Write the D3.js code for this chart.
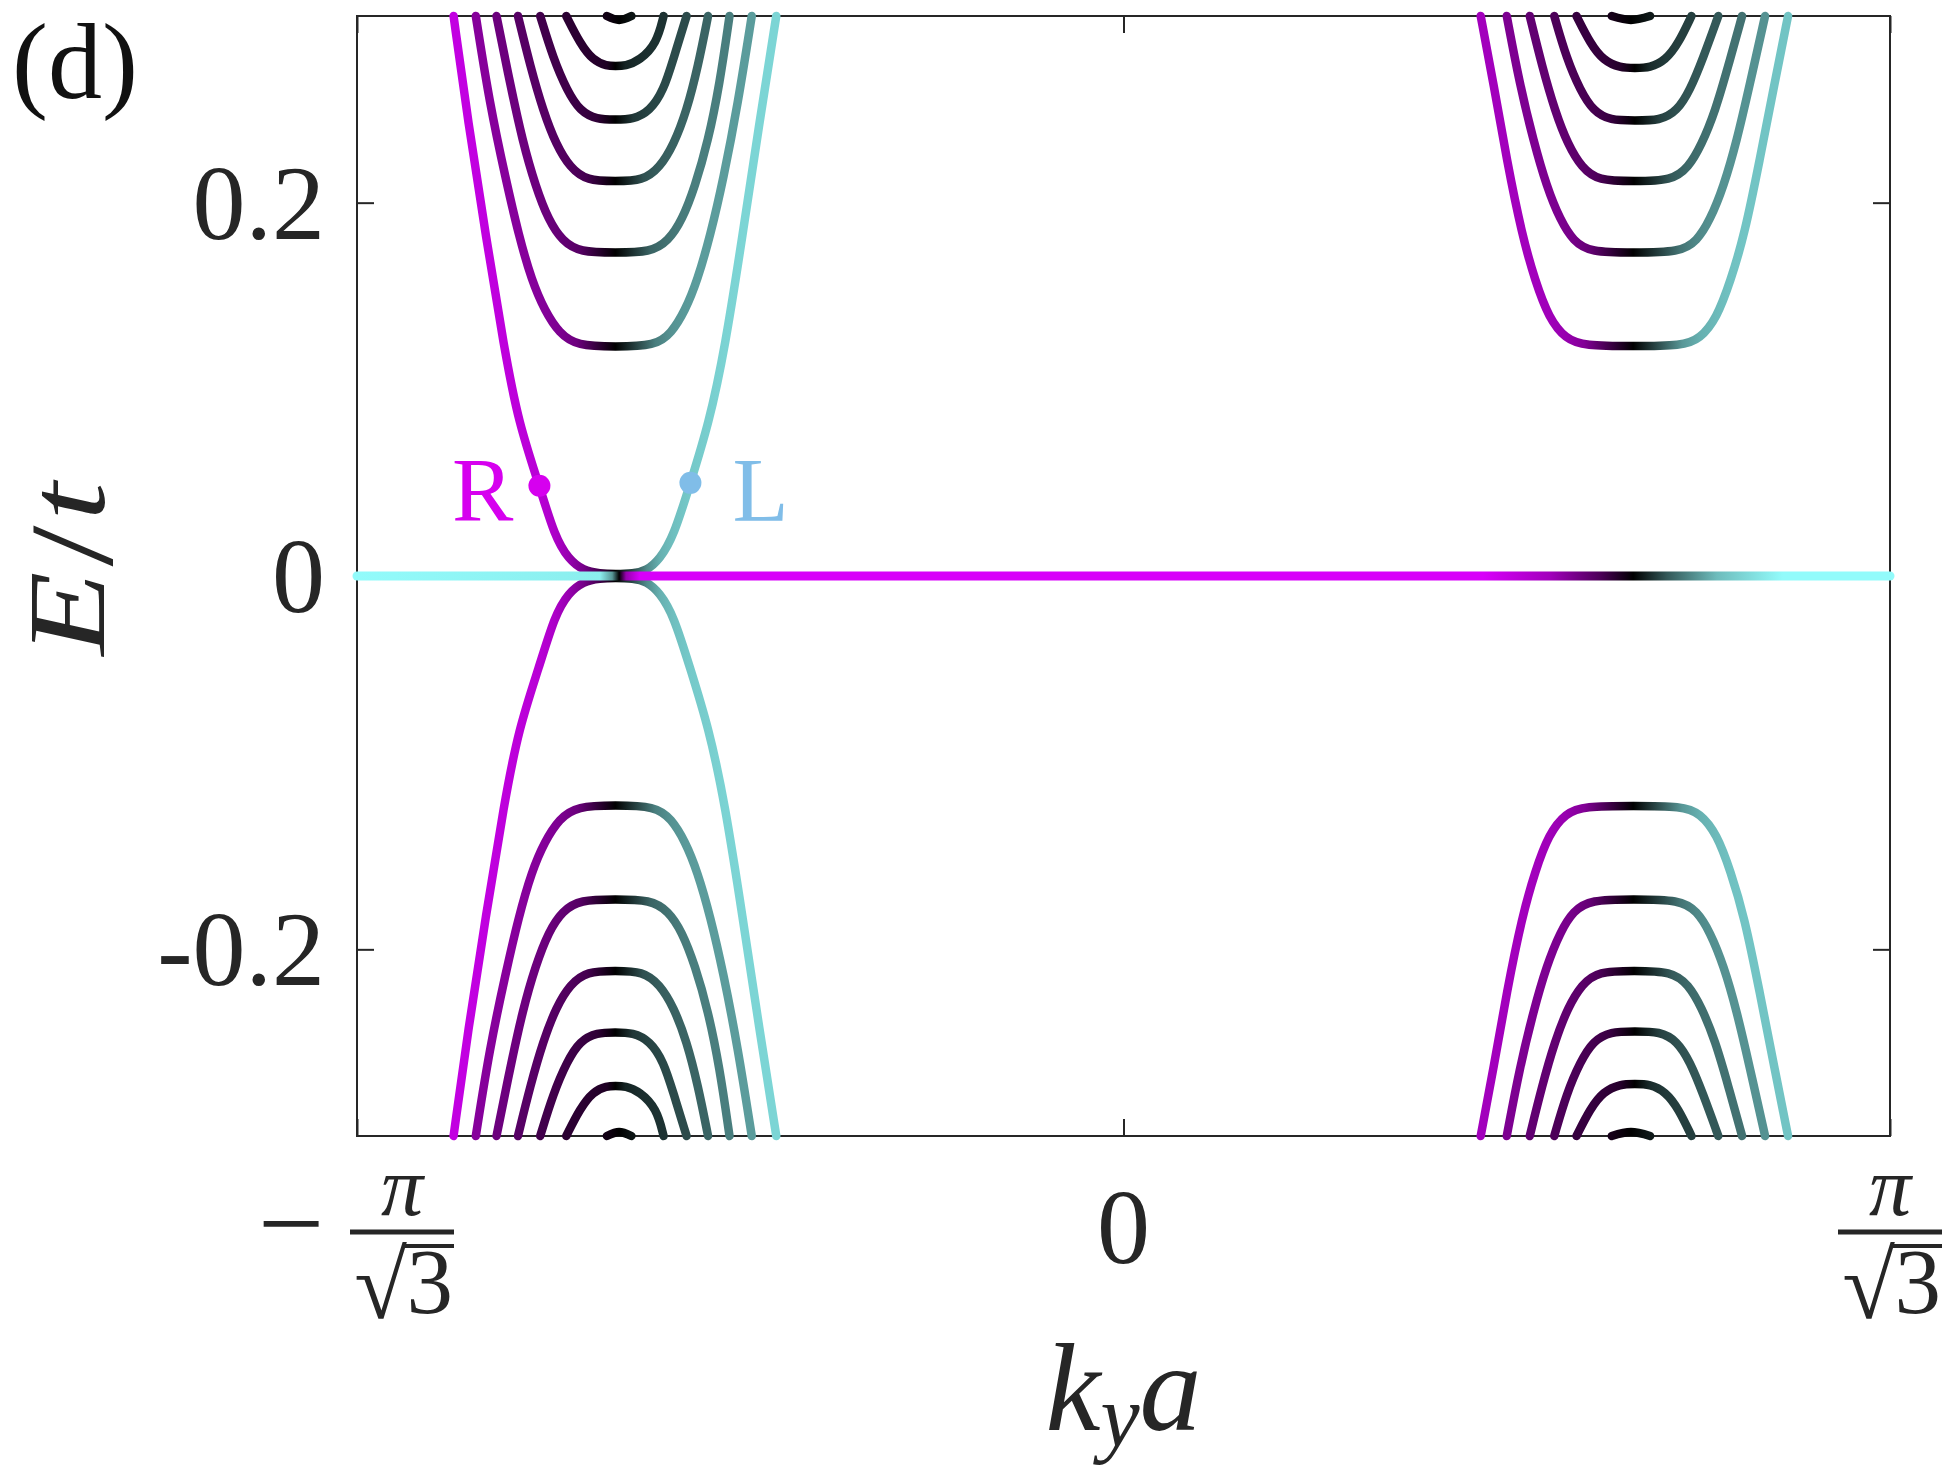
<!DOCTYPE html>
<html>
<head>
<meta charset="utf-8">
<script src="https://cdn.jsdelivr.net/npm/d3@7"></script>
<style>
  html, body { margin: 0; padding: 0; background: #fff; }
  svg { display: block; background: #fff; }
  text { font-family: "Liberation Serif", "DejaVu Serif", "Noto Serif", serif; fill: #262626; }
</style>
</head>
<body>
<svg id="chart" width="1946" height="1466" font-family="Liberation Serif, DejaVu Serif, serif"></svg>
<script>
// ky in units of pi/sqrt(3), E in units of t, third value = valley shade (-1 magenta ... 0 black ... +1 cyan)
const leftUpper = [
  [[-0.874,0.300,-0.90],[-0.855,0.243,-0.90],[-0.832,0.1825,-0.89],[-0.808,0.1219,-0.88],[-0.789,0.0816,-0.87],[-0.762,0.0483,-0.85],[-0.742,0.0211,-0.80],[-0.724,0.0090,-0.70],[-0.705,0.0029,-0.55],[-0.683,0.0012,-0.30],[-0.663,0.0010,0],[-0.640,0.0012,0.30],[-0.622,0.0029,0.55],[-0.605,0.0090,0.70],[-0.587,0.0211,0.76],[-0.565,0.0499,0.80],[-0.541,0.0816,0.82],[-0.520,0.1219,0.84],[-0.497,0.1825,0.85],[-0.475,0.243,0.85],[-0.453,0.300,0.85]],
  [[-0.845,0.300,-0.62],[-0.827,0.2531,-0.62],[-0.806,0.2127,-0.62],[-0.789,0.1825,-0.62],[-0.772,0.1582,-0.62],[-0.755,0.1421,-0.61],[-0.736,0.1300,-0.58],[-0.713,0.1233,-0.50],[-0.663,0.1228,0],[-0.611,0.1233,0.50],[-0.590,0.1300,0.58],[-0.572,0.1421,0.61],[-0.556,0.1582,0.62],[-0.539,0.1825,0.62],[-0.522,0.2127,0.62],[-0.503,0.2531,0.62],[-0.485,0.300,0.62]],
  [[-0.818,0.300,-0.50],[-0.800,0.2632,-0.50],[-0.784,0.2329,-0.50],[-0.767,0.2087,-0.50],[-0.750,0.1905,-0.49],[-0.732,0.1794,-0.46],[-0.709,0.1734,-0.40],[-0.663,0.1732,0],[-0.617,0.1734,0.40],[-0.594,0.1794,0.46],[-0.576,0.1905,0.49],[-0.559,0.2087,0.50],[-0.542,0.2329,0.50],[-0.527,0.2632,0.50],[-0.514,0.300,0.50]],
  [[-0.790,0.300,-0.40],[-0.774,0.2732,-0.40],[-0.757,0.2490,-0.40],[-0.740,0.2309,-0.39],[-0.722,0.2188,-0.37],[-0.700,0.2117,-0.32],[-0.663,0.2115,0],[-0.627,0.2117,0.32],[-0.605,0.2188,0.37],[-0.587,0.2309,0.39],[-0.570,0.2490,0.40],[-0.555,0.2732,0.40],[-0.542,0.300,0.40]],
  [[-0.761,0.300,-0.30],[-0.744,0.2773,-0.30],[-0.726,0.2601,-0.29],[-0.709,0.2490,-0.27],[-0.687,0.2446,-0.22],[-0.663,0.2445,0],[-0.640,0.2446,0.22],[-0.618,0.2490,0.27],[-0.600,0.2601,0.29],[-0.587,0.2773,0.30],[-0.570,0.300,0.30]],
  [[-0.727,0.300,-0.20],[-0.709,0.2853,-0.20],[-0.692,0.2762,-0.18],[-0.674,0.2732,-0.14],[-0.663,0.2732,0],[-0.650,0.2732,0.14],[-0.631,0.2762,0.18],[-0.609,0.2853,0.20],[-0.600,0.300,0.20]],
  [[-0.674,0.300,-0.08],[-0.658,0.2979,0],[-0.642,0.300,0.08]]
]

const leftLower = [
  [[-0.874,-0.300,-0.90],[-0.855,-0.243,-0.90],[-0.832,-0.1825,-0.89],[-0.808,-0.1219,-0.88],[-0.789,-0.0816,-0.87],[-0.762,-0.0483,-0.85],[-0.742,-0.0211,-0.80],[-0.724,-0.0090,-0.70],[-0.705,-0.0029,-0.55],[-0.683,-0.0012,-0.30],[-0.663,-0.0010,0],[-0.640,-0.0012,0.30],[-0.622,-0.0029,0.55],[-0.605,-0.0090,0.70],[-0.587,-0.0211,0.76],[-0.565,-0.0499,0.80],[-0.541,-0.0816,0.82],[-0.520,-0.1219,0.84],[-0.497,-0.1825,0.85],[-0.475,-0.243,0.85],[-0.453,-0.300,0.85]],
  [[-0.845,-0.300,-0.62],[-0.827,-0.2531,-0.62],[-0.806,-0.2127,-0.62],[-0.789,-0.1825,-0.62],[-0.772,-0.1582,-0.62],[-0.755,-0.1421,-0.61],[-0.736,-0.1300,-0.58],[-0.713,-0.1233,-0.50],[-0.663,-0.1228,0],[-0.611,-0.1233,0.50],[-0.590,-0.1300,0.58],[-0.572,-0.1421,0.61],[-0.556,-0.1582,0.62],[-0.539,-0.1825,0.62],[-0.522,-0.2127,0.62],[-0.503,-0.2531,0.62],[-0.485,-0.300,0.62]],
  [[-0.818,-0.300,-0.50],[-0.800,-0.2632,-0.50],[-0.784,-0.2329,-0.50],[-0.767,-0.2087,-0.50],[-0.750,-0.1905,-0.49],[-0.732,-0.1794,-0.46],[-0.709,-0.1734,-0.40],[-0.663,-0.1732,0],[-0.617,-0.1734,0.40],[-0.594,-0.1794,0.46],[-0.576,-0.1905,0.49],[-0.559,-0.2087,0.50],[-0.542,-0.2329,0.50],[-0.527,-0.2632,0.50],[-0.514,-0.300,0.50]],
  [[-0.790,-0.300,-0.40],[-0.774,-0.2732,-0.40],[-0.757,-0.2490,-0.40],[-0.740,-0.2309,-0.39],[-0.722,-0.2188,-0.37],[-0.700,-0.2117,-0.32],[-0.663,-0.2115,0],[-0.627,-0.2117,0.32],[-0.605,-0.2188,0.37],[-0.587,-0.2309,0.39],[-0.570,-0.2490,0.40],[-0.555,-0.2732,0.40],[-0.542,-0.300,0.40]],
  [[-0.761,-0.300,-0.30],[-0.744,-0.2773,-0.30],[-0.726,-0.2601,-0.29],[-0.709,-0.2490,-0.27],[-0.687,-0.2446,-0.22],[-0.663,-0.2445,0],[-0.640,-0.2446,0.22],[-0.618,-0.2490,0.27],[-0.600,-0.2601,0.29],[-0.587,-0.2773,0.30],[-0.570,-0.300,0.30]],
  [[-0.727,-0.300,-0.20],[-0.709,-0.2853,-0.20],[-0.692,-0.2762,-0.18],[-0.674,-0.2732,-0.14],[-0.663,-0.2732,0],[-0.650,-0.2732,0.14],[-0.631,-0.2762,0.18],[-0.609,-0.2853,0.20],[-0.600,-0.300,0.20]],
  [[-0.674,-0.300,-0.08],[-0.658,-0.2979,0],[-0.642,-0.300,0.08]]
]

const rightUpper = [
  [[0.466,0.300,-0.75],[0.483,0.2632,-0.75],[0.500,0.2228,-0.75],[0.520,0.1825,-0.75],[0.537,0.1582,-0.75],[0.555,0.1381,-0.74],[0.577,0.1270,-0.70],[0.601,0.1233,-0.60],[0.665,0.1231,0],[0.729,0.1233,0.60],[0.752,0.1270,0.70],[0.774,0.1381,0.74],[0.792,0.1582,0.77],[0.810,0.1825,0.78],[0.830,0.2228,0.78],[0.849,0.2632,0.78],[0.867,0.300,0.78]],
  [[0.500,0.300,-0.58],[0.517,0.2632,-0.58],[0.535,0.2329,-0.58],[0.552,0.2087,-0.58],[0.570,0.1905,-0.57],[0.587,0.1794,-0.54],[0.609,0.1734,-0.46],[0.665,0.1732,0],[0.726,0.1734,0.46],[0.748,0.1794,0.54],[0.765,0.1905,0.57],[0.783,0.2087,0.58],[0.800,0.2329,0.58],[0.817,0.2632,0.58],[0.837,0.300,0.58]],
  [[0.530,0.300,-0.45],[0.546,0.2732,-0.45],[0.563,0.2490,-0.45],[0.580,0.2309,-0.44],[0.598,0.2188,-0.42],[0.619,0.2117,-0.36],[0.666,0.2115,0],[0.715,0.2117,0.36],[0.737,0.2188,0.42],[0.754,0.2309,0.44],[0.772,0.2490,0.45],[0.789,0.2732,0.45],[0.807,0.300,0.45]],
  [[0.562,0.300,-0.35],[0.578,0.2773,-0.35],[0.596,0.2601,-0.34],[0.613,0.2490,-0.32],[0.635,0.2440,-0.26],[0.667,0.2440,0],[0.700,0.2440,0.26],[0.722,0.2490,0.32],[0.739,0.2601,0.34],[0.756,0.2773,0.35],[0.776,0.300,0.35]],
  [[0.591,0.300,-0.25],[0.609,0.2853,-0.25],[0.626,0.2762,-0.23],[0.648,0.2722,-0.17],[0.667,0.2721,0],[0.687,0.2722,0.17],[0.707,0.2762,0.23],[0.724,0.2853,0.25],[0.741,0.300,0.25]],
  [[0.637,0.300,-0.10],[0.662,0.2979,0],[0.687,0.300,0.10]]
]

const rightLower = [
  [[0.466,-0.300,-0.75],[0.483,-0.2632,-0.75],[0.500,-0.2228,-0.75],[0.520,-0.1825,-0.75],[0.537,-0.1582,-0.75],[0.555,-0.1381,-0.74],[0.577,-0.1270,-0.70],[0.601,-0.1233,-0.60],[0.665,-0.1231,0],[0.729,-0.1233,0.60],[0.752,-0.1270,0.70],[0.774,-0.1381,0.74],[0.792,-0.1582,0.77],[0.810,-0.1825,0.78],[0.830,-0.2228,0.78],[0.849,-0.2632,0.78],[0.867,-0.300,0.78]],
  [[0.500,-0.300,-0.58],[0.517,-0.2632,-0.58],[0.535,-0.2329,-0.58],[0.552,-0.2087,-0.58],[0.570,-0.1905,-0.57],[0.587,-0.1794,-0.54],[0.609,-0.1734,-0.46],[0.665,-0.1732,0],[0.726,-0.1734,0.46],[0.748,-0.1794,0.54],[0.765,-0.1905,0.57],[0.783,-0.2087,0.58],[0.800,-0.2329,0.58],[0.817,-0.2632,0.58],[0.837,-0.300,0.58]],
  [[0.530,-0.300,-0.45],[0.546,-0.2732,-0.45],[0.563,-0.2490,-0.45],[0.580,-0.2309,-0.44],[0.598,-0.2188,-0.42],[0.619,-0.2117,-0.36],[0.666,-0.2115,0],[0.715,-0.2117,0.36],[0.737,-0.2188,0.42],[0.754,-0.2309,0.44],[0.772,-0.2490,0.45],[0.789,-0.2732,0.45],[0.807,-0.300,0.45]],
  [[0.562,-0.300,-0.35],[0.578,-0.2773,-0.35],[0.596,-0.2601,-0.34],[0.613,-0.2490,-0.32],[0.635,-0.2440,-0.26],[0.667,-0.2440,0],[0.700,-0.2440,0.26],[0.722,-0.2490,0.32],[0.739,-0.2601,0.34],[0.756,-0.2773,0.35],[0.776,-0.300,0.35]],
  [[0.591,-0.300,-0.25],[0.609,-0.2853,-0.25],[0.626,-0.2762,-0.23],[0.648,-0.2722,-0.17],[0.667,-0.2721,0],[0.687,-0.2722,0.17],[0.707,-0.2762,0.23],[0.724,-0.2853,0.25],[0.741,-0.300,0.25]],
  [[0.637,-0.300,-0.10],[0.662,-0.2979,0],[0.687,-0.300,0.10]]
]

// flat zero-energy edge band
const zeroU = [-1, -0.683, -0.667, -0.658, -0.649, -0.631, 0.469, 0.556, 0.622, 0.665, 0.709, 0.774, 0.860, 1]
const zeroShade = [1, 0.95, 0.6, 0, -0.7, -1, -1, -0.75, -0.35, 0, 0.35, 0.75, 1, 1]

const markers = [
  {name: 'R', u: -0.762, E: 0.0483, color: '#d600ef'},
  {name: 'L', u: -0.565, E: 0.0499, color: '#80bde8'}
]

const xTicks = [-1, 0, 1]
const yTicks = [-0.2, 0, 0.2]
const yTickLabels = ['-0.2', '0', '0.2']

const magentaEnd = '#d800fa'
const cyanEnd = '#92fbfb'
const ink = '#262626'

const svg = d3.select('#chart')
const x = d3.scaleLinear().domain([-1, 1]).range([357, 1890])
const y = d3.scaleLinear().domain([-0.3, 0.3]).range([1136, 16])

let shade = s => s < 0
    ? d3.interpolateRgb('#000', magentaEnd)(-s)
    : d3.interpolateRgb('#000', cyanEnd)(s)

const defs = svg.append('defs')
const plot = svg.append('g')
let gradCount = 0

let smoothLine = d3.line().x(d => x(d[0])).y(d => y(d[1])).curve(d3.curveBasis)
let capLine = d3.line().x(d => x(d[0])).y(d => y(d[1])).curve(d3.curveMonotoneX)
let straightLine = d3.line().x(d => x(d[0])).y(d => y(d[1]))

function drawBand(pts, lw, gen) {
    let id = 'band' + (gradCount++)
    let x0 = x(pts[0][0]), x1 = x(pts[pts.length - 1][0])
    let grad = defs.append('linearGradient')
        .attr('id', id)
        .attr('gradientUnits', 'userSpaceOnUse')
        .attr('x1', x0).attr('x2', x1)
        .attr('y1', 0).attr('y2', 0)
    grad.selectAll('stop')
        .data(pts)
        .enter()
        .append('stop')
        .attr('offset', d => (x(d[0]) - x0) / (x1 - x0))
        .attr('stop-color', d => shade(d[2]))

    plot.append('path')
        .datum(pts)
        .attr('d', gen)
        .attr('fill', 'none')
        .attr('stroke', `url(#${id})`)
        .attr('stroke-width', lw)
        .attr('stroke-linecap', 'round')
        .attr('stroke-linejoin', 'round')
}

// frame + inward ticks
plot.append('rect')
    .attr('x', x(-1)).attr('y', y(0.3))
    .attr('width', x(1) - x(-1)).attr('height', y(-0.3) - y(0.3))
    .attr('fill', 'none').attr('stroke', ink).attr('stroke-width', 2)

const tickLen = 17
let axisStyle = g => {
    g.select('.domain').remove()
    g.selectAll('.tick line').attr('stroke', ink).attr('stroke-width', 2)
}
plot.append('g').attr('transform', `translate(0,${y(-0.3)})`)
    .call(d3.axisBottom(x).tickValues(xTicks).tickSizeInner(-tickLen).tickSizeOuter(0).tickFormat(''))
    .call(axisStyle)
plot.append('g').attr('transform', `translate(0,${y(0.3)})`)
    .call(d3.axisTop(x).tickValues(xTicks).tickSizeInner(-tickLen).tickSizeOuter(0).tickFormat(''))
    .call(axisStyle)
plot.append('g').attr('transform', `translate(${x(-1)},0)`)
    .call(d3.axisLeft(y).tickValues(yTicks).tickSizeInner(-tickLen).tickSizeOuter(0).tickFormat(''))
    .call(axisStyle)
plot.append('g').attr('transform', `translate(${x(1)},0)`)
    .call(d3.axisRight(y).tickValues(yTicks).tickSizeInner(-tickLen).tickSizeOuter(0).tickFormat(''))
    .call(axisStyle)

// bands
leftUpper.concat(leftLower, rightUpper, rightLower).forEach(b => {
    drawBand(b, 8.5, b.length > 3 ? smoothLine : capLine)
})

// zero line on top
drawBand(zeroU.map((u, i) => [u, 0, zeroShade[i]]), 9, straightLine)

// R / L markers
markers.forEach(m => {
    plot.append('circle')
        .attr('cx', x(m.u)).attr('cy', y(m.E)).attr('r', 11)
        .attr('fill', m.color)
})
svg.append('text')
    .attr('x', x(markers[0].u) - 26).attr('y', 521)
    .attr('text-anchor', 'end').attr('font-size', 92)
    .style('fill', markers[0].color)
    .text('R')
svg.append('text')
    .attr('x', x(markers[1].u) + 42).attr('y', 521)
    .attr('text-anchor', 'start').attr('font-size', 92)
    .style('fill', markers[1].color)
    .text('L')

// y tick labels
svg.selectAll('.ylab')
    .data(yTicks)
    .enter()
    .append('text')
    .attr('class', 'ylab')
    .attr('x', 325)
    .attr('y', d => y(d) + 36)
    .attr('text-anchor', 'end')
    .attr('font-size', 106)
    .text((d, i) => yTickLabels[i])

// x tick labels
svg.append('text')
    .attr('x', x(0)).attr('y', 1263)
    .attr('text-anchor', 'middle').attr('font-size', 106)
    .text('0')

function piLabel(cx, negative) {
    let g = svg.append('g')
    if (negative) {
        g.append('text')
            .attr('x', cx - 111).attr('y', 1263)
            .attr('text-anchor', 'middle').attr('font-size', 118)
            .text('\u2212')
    }
    g.append('line')
        .attr('x1', cx - 52).attr('x2', cx + 52)
        .attr('y1', 1232).attr('y2', 1232)
        .attr('stroke', ink).attr('stroke-width', 5)
    g.append('text')
        .attr('x', cx).attr('y', 1215)
        .attr('text-anchor', 'middle').attr('font-size', 84)
        .style('font-style', 'italic')
        .text('\u03c0')
    g.append('text')
        .attr('x', cx + 51).attr('y', 1313)
        .attr('text-anchor', 'end').attr('font-size', 93)
        .text('3')
    g.append('text')
        .attr('x', cx + 5).attr('y', 1318)
        .attr('text-anchor', 'end').attr('font-size', 96)
        .text('\u221a')
    g.append('line')
        .attr('x1', cx + 2).attr('x2', cx + 52)
        .attr('y1', 1246).attr('y2', 1246)
        .attr('stroke', ink).attr('stroke-width', 4)
}
piLabel(x(-1) + 45, true)
piLabel(x(1), false)

// axis titles
let xt = svg.append('text')
    .attr('x', x(0)).attr('y', 1430)
    .attr('text-anchor', 'middle').attr('font-size', 124)
    .style('font-style', 'italic')
xt.append('tspan').text('k')
xt.append('tspan').attr('font-size', 88).attr('dy', 16).text('y')
xt.append('tspan').attr('dy', -16).text('a')

let yt = svg.append('text')
    .attr('transform', 'translate(104,569) rotate(-90) scale(1.25,1)')
    .attr('text-anchor', 'middle').attr('font-size', 110)
yt.append('tspan').style('font-style', 'italic').text('E')
yt.append('tspan').attr('font-size', 118).attr('dx', 4).attr('dy', 8).text('/')
yt.append('tspan').style('font-style', 'italic').attr('dx', 4).attr('dy', -8).text('t')

svg.append('text')
    .attr('x', 12).attr('y', 98)
    .attr('font-size', 108)
    .style('fill', '#111')
    .text('(d)')
</script>
</body>
</html>
